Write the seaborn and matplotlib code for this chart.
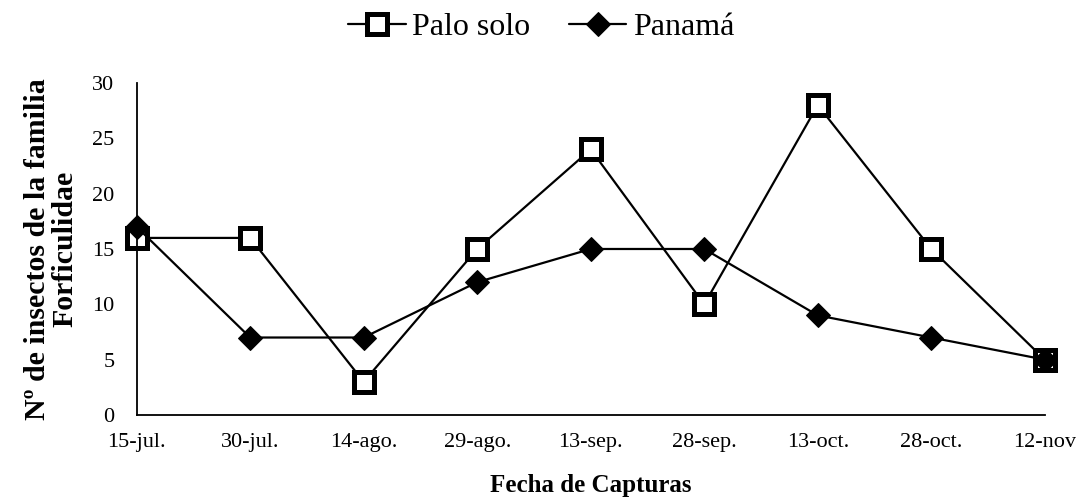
import matplotlib
matplotlib.use("Agg")
import matplotlib.pyplot as plt
import pandas as pd
import seaborn as sns

fechas = ['15-jul.', '30-jul.', '14-ago.', '29-ago.', '13-sep.',
          '28-sep.', '13-oct.', '28-oct.', '12-nov']
palo_solo = [16, 16, 3, 15, 24, 10, 28, 15, 5]
panama = [17, 7, 7, 12, 15, 15, 9, 7, 5]

df = pd.DataFrame({'fecha': fechas, 'Palo solo': palo_solo, 'Panamá': panama})

sns.set_style('white')
plt.rcParams['font.family'] = ['Liberation Serif', 'DejaVu Serif']
plt.rcParams['text.color'] = 'black'
plt.rcParams['axes.labelcolor'] = 'black'
plt.rcParams['xtick.color'] = 'black'
plt.rcParams['ytick.color'] = 'black'

fig = plt.figure(figsize=(10.76, 5.03), dpi=100)
ax = fig.add_axes([0.127, 0.175, 0.844, 0.66])

sns.lineplot(data=df, x='fecha', y='Palo solo', ax=ax, color='black', linewidth=1.6,
             marker='s', markersize=14.5, markerfacecolor='white', markeredgecolor='black',
             markeredgewidth=3.6, label='Palo solo', sort=False, clip_on=False)
sns.lineplot(data=df, x='fecha', y='Panamá', ax=ax, color='black', linewidth=1.6,
             marker='D', markersize=12, markerfacecolor='black', markeredgecolor='black',
             label='Panamá', sort=False, clip_on=False)

ax.set_xlim(0, len(fechas) - 1)
ax.set_ylim(0, 30)
ax.set_yticks(range(0, 31, 5))
ax.tick_params(axis='x', direction='out', length=7, width=1.2, color='black', labelsize=16, pad=6)
ax.tick_params(axis='y', length=0, labelsize=16, pad=16)
for s in ['top', 'right']:
    ax.spines[s].set_visible(False)
for s in ['left', 'bottom']:
    ax.spines[s].set_color('black')
    ax.spines[s].set_linewidth(1.3)

ax.set_xlabel('Fecha de Capturas', fontsize=18, fontweight='bold', labelpad=16)
ax.set_ylabel('Nº de insectos de la familia\nForficulidae', fontsize=21.5,
              fontweight='bold', labelpad=10, linespacing=1.0)

ax.legend(loc='center', bbox_to_anchor=(0.503, 0.946), bbox_transform=fig.transFigure,
          ncol=2, frameon=False, fontsize=23, handlelength=1.8, columnspacing=1.2,
          handletextpad=0.2)

fig.savefig('out.png', dpi=100)
